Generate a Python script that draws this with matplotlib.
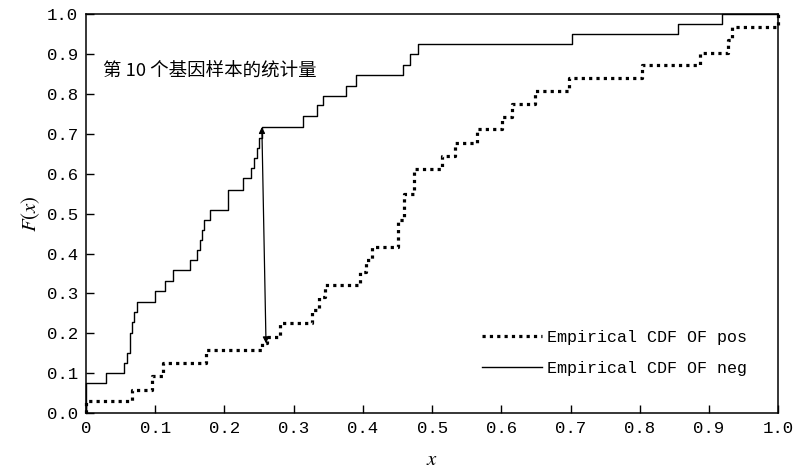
import matplotlib

matplotlib.use("Agg")  # headless
import matplotlib.pyplot as plt  # noqa: E402

# step breakpoints (x) and CDF level from that x onwards (y)
pos_x = [0, 0, 0.066, 0.095, 0.111, 0.173, 0.254, 0.262, 0.280, 0.326,
         0.336, 0.345, 0.396, 0.405, 0.413, 0.450, 0.459, 0.474, 0.514, 0.533,
         0.565, 0.601, 0.615, 0.649, 0.698, 0.803, 0.887, 0.928, 0.933, 1.0, 1.0]
pos_y = [0, 0.03, 0.059, 0.093, 0.126, 0.158, 0.175, 0.191, 0.225, 0.258,
         0.29, 0.322, 0.354, 0.383, 0.417, 0.484, 0.548, 0.613, 0.645, 0.677,
         0.711, 0.743, 0.774, 0.808, 0.839, 0.872, 0.903, 0.935, 0.968, 1.0, 1.0]

neg_x = [0, 0, 0.029, 0.055, 0.059, 0.063, 0.066, 0.069, 0.073,
         0.0997, 0.114, 0.126, 0.150, 0.160, 0.165, 0.168, 0.171, 0.179,
         0.205, 0.227, 0.238, 0.243, 0.247, 0.250, 0.254,
         0.313, 0.334, 0.342, 0.376, 0.390, 0.458, 0.468, 0.480,
         0.702, 0.855, 0.919, 1.0]
neg_y = [0, 0.075, 0.10, 0.125, 0.15, 0.20, 0.229, 0.254, 0.279,
         0.305, 0.33, 0.358, 0.385, 0.41, 0.435, 0.46, 0.485, 0.51,
         0.56, 0.59, 0.615, 0.64, 0.665, 0.69, 0.717,
         0.744, 0.772, 0.796, 0.82, 0.847, 0.872, 0.9, 0.925,
         0.95, 0.975, 1.0, 1.0]

# KS distance arrow: (x, F) of both ends
ks_top = (0.254, 0.717)
ks_bottom = (0.260, 0.175)

ticks = [0.0, 0.1, 0.2, 0.3, 0.4, 0.5, 0.6, 0.7, 0.8, 0.9, 1.0]
tick_labels = ["0", "0.1", "0.2", "0.3", "0.4", "0.5", "0.6", "0.7", "0.8", "0.9", "1.0"]
ytick_labels = ["0.0", "0.1", "0.2", "0.3", "0.4", "0.5", "0.6", "0.7", "0.8", "0.9", "1.0"]

plt.rcParams["mathtext.fontset"] = "stix"
MONO = ["Liberation Mono", "DejaVu Sans Mono"]

fig = plt.figure(figsize=(8.04, 4.70), dpi=100)
ax = fig.add_axes([0.107, 0.121, 0.861, 0.849])

ax.step(pos_x, pos_y, where="post", color="black", lw=2.3,
        dashes=(1, 1.3), solid_capstyle="butt", dash_capstyle="butt",
        label="Empirical CDF OF pos", clip_on=False)
ax.step(neg_x, neg_y, where="post", color="black", lw=1.0,
        label="Empirical CDF OF neg", clip_on=False)

ax.annotate("", xy=ks_top, xytext=ks_bottom,
            arrowprops=dict(arrowstyle="<|-|>", color="black", lw=0.9,
                            mutation_scale=9, shrinkA=0, shrinkB=0))

ax.text(0.025, 0.855, "第 10 个基因样本的统计量", fontsize=13.3,
        family=["Noto Sans CJK SC", "DejaVu Sans"], va="center", ha="left")

ax.set_xlim(0, 1)
ax.set_ylim(0, 1)
ax.set_xticks(ticks)
ax.set_xticklabels(tick_labels, family=MONO, fontsize=12.5)
ax.set_yticks(ticks)
ax.set_yticklabels(ytick_labels, family=MONO, fontsize=12.5)
ax.tick_params(direction="in", length=6, width=1.0, top=False, right=False, pad=6)
for s in ax.spines.values():
    s.set_linewidth(1.1)

ax.set_xlabel("$x$", fontsize=15, labelpad=9)
ax.set_ylabel("$F(x)$", fontsize=15, labelpad=3)

ax.legend(loc="lower right", bbox_to_anchor=(0.976, 0.055), frameon=False,
          prop={"family": MONO, "size": 12}, handlelength=3.6, handletextpad=0.3,
          labelspacing=1.0)

fig.savefig("out.png", dpi=100)
plt.close(fig)
